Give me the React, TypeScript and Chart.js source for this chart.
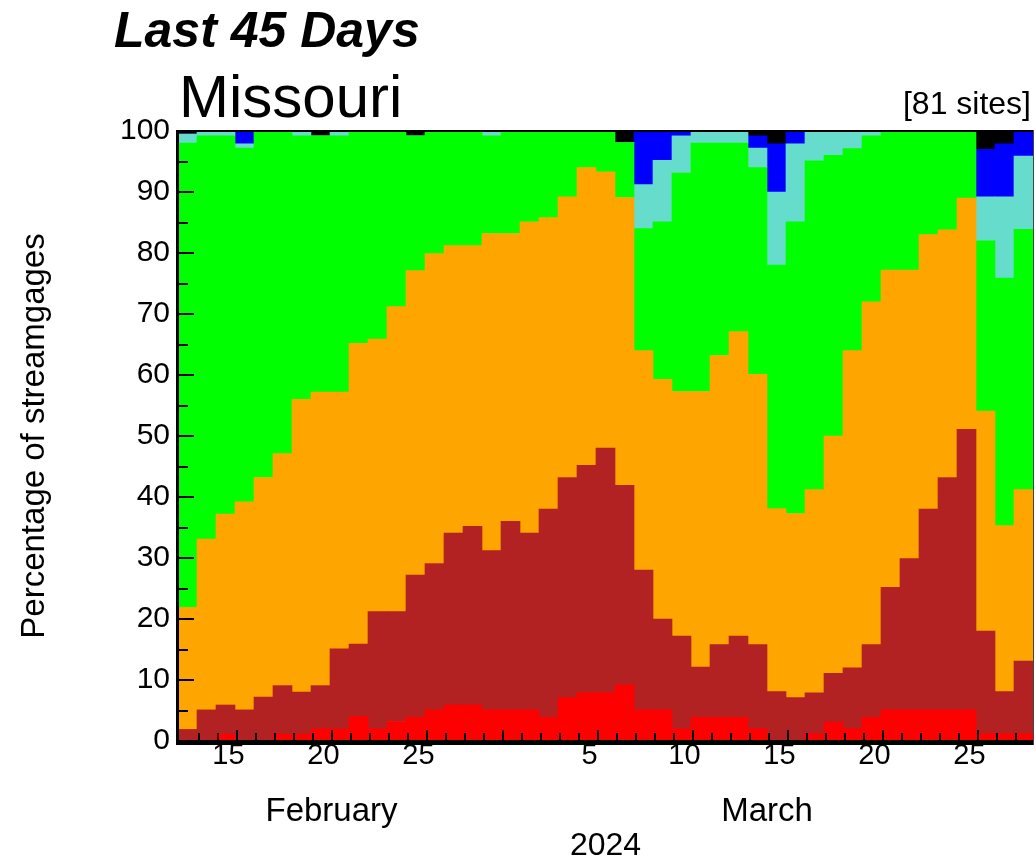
import React, { useEffect, useRef } from "react";
import { Chart, registerables } from "chart.js";

Chart.register(...registerables);

const FONT = '"Liberation Sans", Arial, Helvetica, sans-serif';

const titleText = "Last 45 Days";
const stateName = "Missouri";
const siteCount = "[81 sites]";
const yAxisTitle = "Percentage of streamgages";
const yearLabel = "2024";
const monthNames = ["February", "March"];

const dates = [
  "2024-02-13", "2024-02-14", "2024-02-15", "2024-02-16", "2024-02-17", "2024-02-18", "2024-02-19",
  "2024-02-20", "2024-02-21", "2024-02-22", "2024-02-23", "2024-02-24", "2024-02-25", "2024-02-26",
  "2024-02-27", "2024-02-28", "2024-02-29", "2024-03-01", "2024-03-02", "2024-03-03", "2024-03-04",
  "2024-03-05", "2024-03-06", "2024-03-07", "2024-03-08", "2024-03-09", "2024-03-10", "2024-03-11",
  "2024-03-12", "2024-03-13", "2024-03-14", "2024-03-15", "2024-03-16", "2024-03-17", "2024-03-18",
  "2024-03-19", "2024-03-20", "2024-03-21", "2024-03-22", "2024-03-23", "2024-03-24", "2024-03-25",
  "2024-03-26", "2024-03-27", "2024-03-28",
];

// percentage of streamgages in each class
const low = [
  0, 0, 1.1, 0, 0, 1.1, 1.1, 2.0, 2.0, 4.0,
  2.0, 3.2, 3.9, 5.1, 5.9, 5.9, 5.1, 5.1, 5.1, 3.9,
  7.1, 7.9, 7.9, 9.2, 5.1, 5.1, 2.0, 3.9, 3.9, 3.9,
  2.0, 0, 0, 1.2, 3.1, 2.0, 3.9, 5.1, 5.1, 5.1,
  5.1, 5.1, 1.2, 1.2, 1.2,
];
const muchBelowNormal = [
  1.9, 5.1, 4.8, 5.1, 7.2, 8.0, 6.9, 7.1, 13.1, 11.9,
  19.2, 18.0, 23.3, 24.0, 28.2, 29.3, 26.1, 30.9, 29.0, 34.1,
  36.1, 37.3, 40.1, 32.7, 22.9, 14.9, 15.2, 8.2, 11.9, 13.3,
  13.8, 8.1, 7.1, 6.7, 8.0, 10.0, 11.9, 20.1, 24.8, 32.9,
  38.1, 46.0, 16.8, 6.9, 11.9,
];
const belowNormal = [
  20.0, 28.0, 31.3, 34.1, 36.0, 38.0, 48.0, 48.1, 42.1, 49.3,
  44.7, 50.0, 49.9, 50.8, 47.1, 46.0, 52.0, 47.2, 51.0, 47.8,
  46.0, 48.8, 45.3, 47.2, 36.0, 39.3, 40.1, 45.2, 47.4, 49.9,
  44.3, 30.0, 30.2, 33.3, 38.9, 52.0, 56.2, 52.0, 47.3, 45.0,
  40.6, 37.9, 36.1, 27.2, 28.1,
];
const normal = [
  76.1, 66.1, 62.0, 58.0, 56.8, 52.9, 43.2, 42.0, 42.0, 34.8,
  34.1, 28.8, 22.1, 20.1, 18.8, 18.8, 16.0, 16.8, 14.9, 14.2,
  10.8, 6.0, 6.7, 9.0, 20.0, 25.8, 35.8, 40.7, 34.8, 30.9,
  33.9, 39.9, 47.8, 53.9, 46.0, 33.1, 27.2, 22.8, 22.8, 17.0,
  16.2, 11.0, 27.9, 40.6, 42.7,
];
const aboveNormal = [
  1.5, 0.8, 0.8, 0.7, 0, 0, 0.8, 0, 0.8, 0,
  0, 0, 0, 0, 0, 0, 0.8, 0, 0, 0,
  0, 0, 0, 0, 7.2, 10.1, 6.1, 2.0, 2.0, 2.0,
  3.2, 12.0, 12.8, 4.9, 4.0, 2.9, 0.8, 0, 0, 0,
  0, 0, 7.2, 13.3, 12.0,
];
const muchAboveNormal = [
  0, 0, 0, 2.1, 0, 0, 0, 0, 0, 0,
  0, 0, 0, 0, 0, 0, 0, 0, 0, 0,
  0, 0, 0, 0, 8.8, 4.8, 0.8, 0, 0, 0,
  2.0, 7.9, 2.1, 0, 0, 0, 0, 0, 0, 0,
  0, 0, 7.8, 8.7, 4.1,
];
const high = [
  0.5, 0, 0, 0, 0, 0, 0, 0.8, 0, 0,
  0, 0, 0.8, 0, 0, 0, 0, 0, 0, 0,
  0, 0, 0, 1.9, 0, 0, 0, 0, 0, 0,
  0.8, 2.1, 0, 0, 0, 0, 0, 0, 0, 0,
  0, 0, 3.0, 2.1, 0,
];

const seriesNames = ["Low", "Much below normal", "Below normal", "Normal", "Above normal", "Much above normal", "High"];
const seriesColors = ["#FF0000", "#B22222", "#FFA500", "#00FF00", "#66DDCC", "#0000FF", "#000000"];
const seriesValues = [low, muchBelowNormal, belowNormal, normal, aboveNormal, muchAboveNormal, high];

const dayOf = (d: string) => parseInt(d.slice(8), 10);
const monthOf = (d: string) => parseInt(d.slice(5, 7), 10);

const overlayPlugin = {
  id: "overlay",
  afterDatasetsDraw(chart: any) {
    const { ctx, chartArea: a, scales } = chart;
    const xs = scales.x;
    const ys = scales.y;
    ctx.save();
    ctx.fillStyle = "#000";
    // y ticks (inside, from left)
    const yTicks = ys.ticks.map((t: any) => t.value);
    for (let i = 0; i < yTicks.length; i++) {
      const v = yTicks[i];
      if (v > 0 && v < 100) {
        const py = Math.round(ys.getPixelForValue(v));
        ctx.fillRect(a.left, py - 1, 16, 2);
      }
      if (i < yTicks.length - 1) {
        const mv = (yTicks[i] + yTicks[i + 1]) / 2;
        const py = Math.round(ys.getPixelForValue(mv));
        ctx.fillRect(a.left, py - 1, 10, 2);
      }
    }
    // x ticks at day boundaries (inside, upward)
    for (let i = 1; i < dates.length; i++) {
      const px = Math.round((xs.getPixelForValue(i - 1) + xs.getPixelForValue(i)) / 2) + 2;
      const prevDay = dayOf(dates[i - 1]);
      const tall = prevDay % 5 === 0 || dayOf(dates[i]) === 1;
      const h = tall ? 11 : 8;
      ctx.fillRect(px - 1, a.bottom - h, 2, h);
    }
    // frame
    ctx.fillRect(a.left, a.top - 1, a.right - a.left, 2);
    ctx.fillRect(a.left - 2, a.top - 1, 3, a.bottom - a.top + 5);
    ctx.fillRect(a.left - 2, a.bottom - 1, a.right - a.left + 3, 5);
    ctx.fillStyle = "#444";
    ctx.fillRect(a.right, a.top - 1, 1, a.bottom - a.top + 5);
    ctx.restore();
  },
  afterDraw(chart: any) {
    const { ctx, chartArea: a, scales } = chart;
    const xs = scales.x;
    ctx.save();
    ctx.fillStyle = "#000";
    ctx.textBaseline = "alphabetic";
    // header
    ctx.font = `italic bold 50px ${FONT}`;
    ctx.textAlign = "left";
    ctx.fillText(titleText, 114, 47);
    ctx.font = `60px ${FONT}`;
    ctx.fillText(stateName, 179, 117);
    ctx.font = `32px ${FONT}`;
    ctx.textAlign = "right";
    ctx.fillText(siteCount, 1031, 114);
    // month labels
    ctx.textAlign = "center";
    ctx.font = `33px ${FONT}`;
    const half = (xs.getPixelForValue(1) - xs.getPixelForValue(0)) / 2;
    const months = [2, 3];
    months.forEach((m, mi) => {
      let first = -1;
      let last = -1;
      dates.forEach((d, i) => {
        if (monthOf(d) === m) {
          if (first < 0) first = i;
          last = i;
        }
      });
      if (first < 0) return;
      const left = xs.getPixelForValue(first) - half;
      const right = xs.getPixelForValue(last) + half;
      ctx.fillText(monthNames[mi], (left + right) / 2 - (mi === 0 ? 8 : 0), 821);
    });
    ctx.font = `32px ${FONT}`;
    ctx.fillText(yearLabel, (a.left + a.right) / 2, 855);
    ctx.restore();
  },
};

export default function App() {
  const ref = useRef<HTMLCanvasElement | null>(null);
  useEffect(() => {
    if (!ref.current) return;
    const chart = new Chart(ref.current, {
      type: "bar",
      data: {
        labels: dates,
        datasets: seriesValues.map((vals, i) => ({
          label: seriesNames[i],
          data: vals,
          backgroundColor: seriesColors[i],
          borderWidth: 0,
          barPercentage: 1,
          categoryPercentage: 1,
        })),
      },
      options: {
        responsive: false,
        animation: false,
        maintainAspectRatio: false,
        layout: { padding: { left: 0, top: 131, right: 3, bottom: 0 } },
        plugins: {
          legend: { display: false },
          tooltip: { enabled: false },
          title: { display: false },
        },
        scales: {
          x: {
            stacked: true,
            grid: { display: false, drawTicks: false },
            border: { display: false },
            ticks: {
              autoSkip: false,
              maxRotation: 0,
              minRotation: 0,
              color: "#000",
              font: { family: FONT, size: 29, lineHeight: 1 },
              padding: 0,
              labelOffset: 3,
              callback: (_v: any, idx: number) => {
                const d = dayOf(dates[idx]);
                return d % 5 === 0 ? String(d) : "";
              },
            },
            afterFit: (s: any) => {
              s.height = 120;
            },
          },
          y: {
            stacked: true,
            min: 0,
            max: 100,
            grid: { display: false, drawTicks: false },
            border: { display: false },
            ticks: {
              stepSize: 10,
              color: "#000",
              font: { family: FONT, size: 30 },
              padding: 8,
            },
            title: {
              display: true,
              text: yAxisTitle,
              color: "#000",
              font: { family: FONT, size: 33 },
              padding: { top: 15, bottom: 0 },
            },
            afterFit: (s: any) => {
              s.width = 178;
            },
          },
        },
      },
      plugins: [overlayPlugin],
    });
    return () => chart.destroy();
  }, []);
  return (
    <div style={{ position: "fixed", left: 0, top: 0, width: 1036, height: 861, background: "#fff" }}>
      <canvas ref={ref} width={1036} height={861} style={{ display: "block", width: 1036, height: 861 }} />
    </div>
  );
}
